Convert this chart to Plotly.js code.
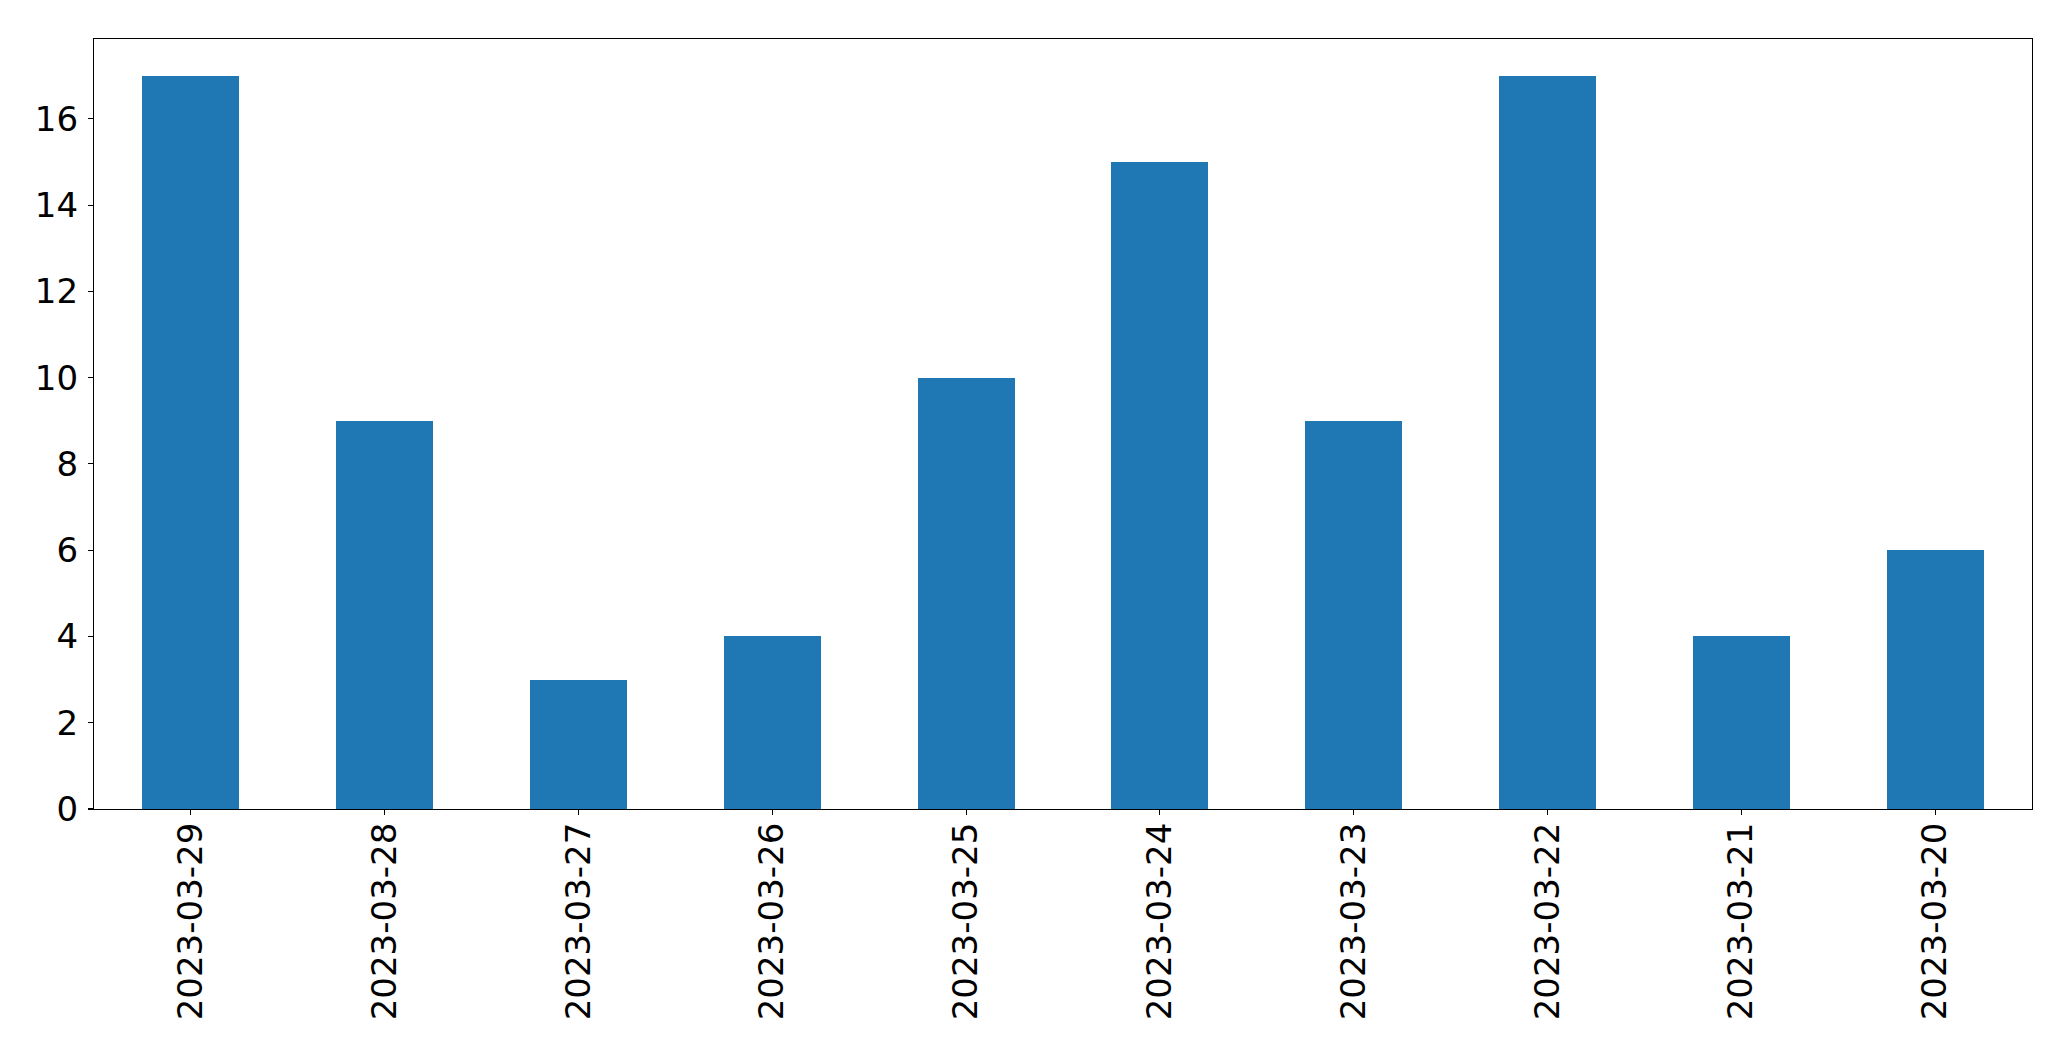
<!DOCTYPE html>
<html>
<head>
<meta charset="utf-8">
<script src="https://cdn.plot.ly/plotly-3.0.1.min.js"></script>
<style>html,body{margin:0;padding:0;background:#fff;}#chart{width:2071px;height:1061px;}</style>
</head>
<body>
<div id="chart"></div>
<script>
const categories = ["2023-03-29","2023-03-28","2023-03-27","2023-03-26","2023-03-25","2023-03-24","2023-03-23","2023-03-22","2023-03-21","2023-03-20"];
const values = [17, 9, 3, 4, 10, 15, 9, 17, 4, 6];
const yTicks = [0, 2, 4, 6, 8, 10, 12, 14, 16];

const trace = {
  type: 'bar',
  x: categories,
  y: values,
  width: 0.5,
  marker: {color: '#1f77b4', line: {width: 0}},
  hoverinfo: 'x+y'
};

const font = {family: 'DejaVu Sans', size: 34, color: '#000'};

const layout = {
  width: 2071, height: 1061,
  margin: {l: 94, r: 39, t: 39, b: 252, pad: 0},
  paper_bgcolor: '#fff', plot_bgcolor: '#fff',
  showlegend: false,
  bargap: 0,
  font: font,
  xaxis: {
    type: 'category',
    range: [-0.5, 9.5],
    tickangle: -90,
    ticks: 'outside', ticklen: 5, tickwidth: 1.1, tickcolor: '#000',
    showline: true, linecolor: '#000', linewidth: 1.1, mirror: true,
    showgrid: false, zeroline: false,
    tickfont: font,
    ticklabelstandoff: -6
  },
  yaxis: {
    range: [0, 17.85],
    tickvals: yTicks,
    ticktext: yTicks.map(String),
    ticks: 'outside', ticklen: 5, tickwidth: 1.1, tickcolor: '#000',
    showline: true, linecolor: '#000', linewidth: 1.1, mirror: true,
    showgrid: false, zeroline: false,
    tickfont: font,
    ticklabelstandoff: 3
  }
};

Plotly.newPlot('chart', [trace], layout, {displayModeBar: false, staticPlot: true});
</script>
</body>
</html>
